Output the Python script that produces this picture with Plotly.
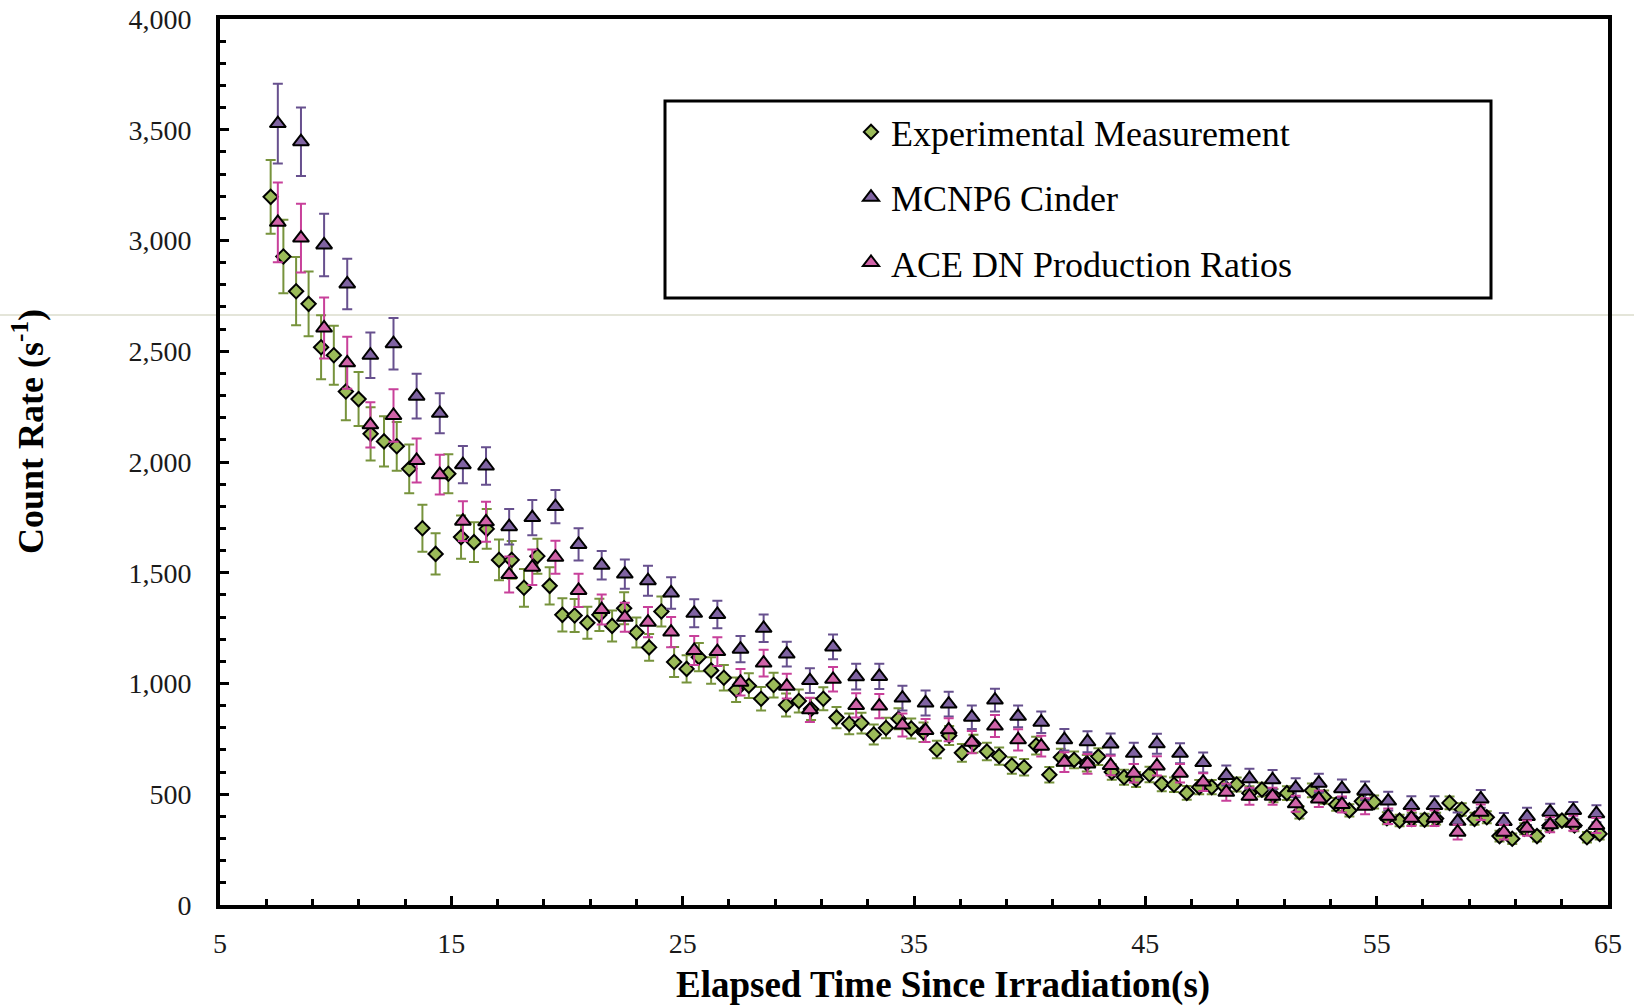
import plotly.graph_objects as go

# ---------------- data ----------------
exp_t = [7.19, 7.74, 8.29, 8.83, 9.37, 9.92, 10.44, 10.99, 11.51, 12.09, 12.64, 13.18,
         13.75, 14.32, 14.87, 15.42, 15.98, 16.53, 17.06, 17.61, 18.14, 18.72, 19.25, 19.8,
         20.33, 20.88, 21.4, 21.95, 22.47, 23.0, 23.55, 24.08, 24.63, 25.17, 25.7, 26.23,
         26.78, 27.31, 27.86, 28.39, 28.93, 29.47, 30.02, 30.55, 31.08, 31.65, 32.2, 32.73,
         33.26, 33.79, 34.33, 34.88, 35.41, 35.99, 36.52, 37.07, 37.57, 38.15, 38.68, 39.23,
         39.76, 40.28, 40.85, 41.35, 41.92, 42.47, 42.97, 43.55, 44.08, 44.6, 45.18, 45.71,
         46.24, 46.79, 47.33, 47.87, 48.41, 48.95, 49.5, 50.04, 50.54, 51.12, 51.66, 52.2,
         52.73, 53.25, 53.82, 54.36, 54.89, 55.44, 55.99, 56.52, 57.07, 57.57, 58.15, 58.68,
         59.23, 59.76, 60.31, 60.86, 61.38, 61.93, 62.47, 63.01, 63.55, 64.09, 64.64]
exp_rate = [3197, 2928, 2771, 2714, 2518, 2482, 2318, 2284, 2127, 2093, 2071, 1969,
            1701, 1585, 1947, 1661, 1638, 1698, 1558, 1558, 1432, 1575, 1441, 1310,
            1307, 1274, 1310, 1260, 1340, 1230, 1163, 1325, 1097, 1066, 1119, 1059,
            1026, 972, 990, 931, 993, 903, 921, 885, 931, 846, 818, 821,
            770, 799, 841, 797, 780, 702, 765, 687, 728, 693, 672, 630,
            622, 720, 588, 667, 655, 640, 670, 600, 577, 567, 589, 547,
            543, 506, 532, 532, 535, 544, 505, 521, 494, 505, 419, 517,
            487, 454, 427, 468, 465, 392, 381, 389, 385, 390, 461, 431,
            389, 396, 311, 299, 344, 311, 359, 381, 359, 306, 321]
exp_err = [166, 166, 154, 146, 144, 133, 130, 122, 120, 113, 110, 110,
           106, 93, 88, 98, 90, 90, 92, 85, 85, 79, 84, 75,
           75, 72, 73, 70, 72, 68, 60, 68, 68, 62, 64, 60,
           58, 55, 56, 53, 56, 52, 52, 50, 52, 48, 47, 47,
           45, 46, 47, 45, 44, 40, 43, 40, 41, 40, 39, 37,
           37, 40, 35, 38, 38, 37, 38, 35, 34, 34, 35, 33,
           33, 31, 32, 32, 32, 32, 31, 31, 30, 31, 28, 31,
           30, 29, 28, 29, 29, 27, 26, 27, 27, 27, 29, 28,
           27, 27, 24, 24, 25, 24, 26, 27, 26, 24, 25]

sim_t = [7.5, 8.5, 9.5, 10.5, 11.5, 12.5, 13.5, 14.5, 15.5, 16.5, 17.5, 18.5, 19.5, 20.5,
         21.5, 22.5, 23.5, 24.5, 25.5, 26.5, 27.5, 28.5, 29.5, 30.5, 31.5, 32.5, 33.5, 34.5,
         35.5, 36.5, 37.5, 38.5, 39.5, 40.5, 41.5, 42.5, 43.5, 44.5, 45.5, 46.5, 47.5, 48.5,
         49.5, 50.5, 51.5, 52.5, 53.5, 54.5, 55.5, 56.5, 57.5, 58.5, 59.5, 60.5, 61.5, 62.5,
         63.5, 64.5]
cinder_rate = [3528, 3446, 2980, 2804, 2482, 2534, 2297, 2220, 1988, 1982, 1708, 1749, 1799, 1628,
               1534, 1494, 1464, 1409, 1317, 1312, 1155, 1249, 1133, 1013, 1165, 1031, 1032, 934,
               912, 907, 848, 925, 852, 825, 746, 737, 727, 685, 728, 685, 643, 585,
               570, 565, 529, 550, 525, 515, 469, 449, 449, 378, 479, 377, 400, 419,
               427, 412]
cinder_err = [180, 155, 141, 114, 103, 116, 101, 90, 84, 85, 80, 80, 75, 73,
              64, 66, 68, 71, 63, 62, 59, 62, 56, 56, 56, 58, 57, 56,
              56, 56, 53, 51, 49, 49, 49, 47, 47, 48, 45, 45, 45, 45,
              45, 44, 43, 42, 42, 42, 42, 42, 42, 40, 40, 38, 39, 38,
              38, 38]
ace_rate = [3082, 3011, 2605, 2448, 2168, 2210, 2007, 1943, 1733, 1730, 1492, 1525, 1570, 1420,
            1334, 1299, 1277, 1232, 1149, 1144, 1006, 1092, 988, 881, 1019, 901, 898, 813,
            788, 791, 735, 808, 746, 717, 645, 637, 630, 595, 628, 595, 555, 509,
            491, 491, 457, 479, 454, 446, 401, 392, 392, 329, 419, 329, 347, 362,
            369, 359]
ace_err = [180, 155, 138, 117, 102, 119, 99, 90, 90, 90, 81, 80, 75, 75,
           68, 65, 68, 68, 65, 65, 60, 60, 56, 55, 55, 55, 55, 52,
           52, 52, 50, 50, 48, 47, 45, 45, 44, 42, 43, 42, 40, 38,
           38, 38, 36, 37, 36, 36, 35, 35, 35, 33, 35, 33, 34, 34,
           34, 34]

x_ticks = [5, 15, 25, 35, 45, 55, 65]
y_ticks = [0, 500, 1000, 1500, 2000, 2500, 3000, 3500, 4000]

x_title = "<b>Elapsed Time Since Irradiation(s)</b>"
y_title = "<b>Count Rate (s<sup>-1</sup>)</b>"

# ---------------- figure ----------------
FONT = "Liberation Serif"
W, H = 1634, 1006
L, R, T, B = 220, 26, 19, 101
pw, ph = W - L - R, H - T - B

def px_x(px):
    return (px - L) / pw

def px_y(py):
    return (H - B - py) / ph

fig = go.Figure()

fig.add_trace(go.Scatter(
    x=exp_t, y=exp_rate, mode="markers", name="Experimental Measurement",
    legendgroup="a",
    marker=dict(symbol="diamond", size=11, color="#9BBB59",
                line=dict(color="black", width=2)),
    error_y=dict(type="data", array=exp_err, visible=True,
                 color="#77933C", thickness=2, width=5),
))
fig.add_trace(go.Scatter(
    x=sim_t, y=cinder_rate, mode="markers", name="MCNP6 Cinder",
    legendgroup="b",
    marker=dict(symbol="triangle-up", size=14, color="#8064A2",
                line=dict(color="black", width=2)),
    error_y=dict(type="data", array=cinder_err, visible=True,
                 color="#67508E", thickness=2, width=5),
))
fig.add_trace(go.Scatter(
    x=sim_t, y=ace_rate, mode="markers", name="ACE DN Production Ratios",
    legendgroup="c",
    marker=dict(symbol="triangle-up", size=14, color="#D063A8",
                line=dict(color="black", width=2)),
    error_y=dict(type="data", array=ace_err, visible=True,
                 color="#C8409A", thickness=2, width=5),
))

# legend frame
fig.add_shape(type="rect", xref="paper", yref="paper",
              x0=px_x(665), x1=px_x(1491), y0=px_y(298), y1=px_y(101),
              line=dict(color="black", width=3), fillcolor="rgba(0,0,0,0)", layer="above")
# thin horizontal rule present in the reference image
fig.add_shape(type="line", xref="paper", yref="paper",
              x0=px_x(0), x1=px_x(W), y0=px_y(315), y1=px_y(315),
              line=dict(color="#C9CBB3", width=1), layer="below")

# axis titles (placed as in the reference, slightly off-centre)
fig.add_annotation(text=x_title, xref="paper", yref="paper",
                   x=px_x(943), y=px_y(985), xanchor="center", yanchor="middle",
                   showarrow=False, font=dict(family=FONT, size=37, color="black"))
fig.add_annotation(text=y_title, xref="paper", yref="paper", textangle=-90,
                   x=px_x(29), y=px_y(432), xanchor="center", yanchor="middle",
                   showarrow=False, font=dict(family=FONT, size=36, color="black"))

fig.update_layout(
    width=W, height=H,
    margin=dict(l=L, r=R, t=T, b=B, pad=0, autoexpand=False),
    paper_bgcolor="white", plot_bgcolor="white",
    font=dict(family=FONT, color="black"),
    showlegend=True,
    legend=dict(x=px_x(851), y=px_y(102), xanchor="left", yanchor="top",
                bgcolor="rgba(0,0,0,0)", borderwidth=0,
                font=dict(family=FONT, size=36, color="black"),
                traceorder="grouped", tracegroupgap=15.5),
    xaxis=dict(range=[5, 65], tickmode="array", tickvals=x_ticks,
               ticktext=[str(v) for v in x_ticks], automargin=False,
               ticks="inside", ticklen=9, tickwidth=3, tickcolor="black",
               minor=dict(dtick=2, tick0=5, ticks="inside", ticklen=6, tickwidth=3,
                          tickcolor="black", showgrid=False),
               showline=True, linewidth=4, linecolor="black", mirror=True,
               showgrid=False, zeroline=False,
               tickfont=dict(family=FONT, size=28, color="#1a1a1a"),
               ticklabelstandoff=10),
    yaxis=dict(range=[0, 4000], tickmode="array", tickvals=y_ticks,
               ticktext=[f"{v:,}" for v in y_ticks], automargin=False,
               ticks="inside", ticklen=9, tickwidth=3, tickcolor="black",
               minor=dict(dtick=100, tick0=0, ticks="inside", ticklen=6, tickwidth=3,
                          tickcolor="black", showgrid=False),
               showline=True, linewidth=4, linecolor="black", mirror=True,
               showgrid=False, zeroline=False,
               tickfont=dict(family=FONT, size=28, color="#1a1a1a"),
               ticklabelstandoff=19),
)

fig.write_html("out.html")
